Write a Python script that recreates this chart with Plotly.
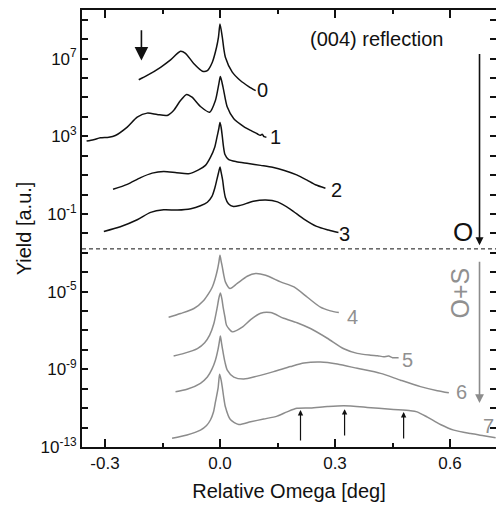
import plotly.graph_objects as go

# ---- data (x in deg, y given as log10 of yield) ----
c0_x = [-0.212, -0.190, -0.155, -0.129, -0.103, -0.090, -0.068, -0.046, -0.033, -0.020, -0.009, -0.004, 0.0, 0.006, 0.010, 0.014, 0.032, 0.053, 0.075, 0.093]
c0_ly = [5.91, 6.13, 6.55, 6.93, 7.38, 7.27, 6.73, 6.35, 6.38, 6.81, 7.58, 8.10, 8.78, 8.10, 7.50, 7.07, 6.30, 5.87, 5.56, 5.35]

c1_x = [-0.348, -0.330, -0.312, -0.290, -0.273, -0.242, -0.216, -0.190, -0.164, -0.138, -0.121, -0.103, -0.087, -0.073, -0.051, -0.027, -0.012, -0.003, 0.001, 0.008, 0.019, 0.036, 0.062, 0.080, 0.097, 0.105, 0.110, 0.115, 0.121]
c1_ly = [2.75, 2.82, 2.92, 2.95, 3.04, 3.47, 3.98, 4.19, 4.12, 4.07, 4.33, 4.84, 5.15, 5.01, 4.53, 4.24, 4.84, 5.70, 6.07, 5.52, 4.50, 3.90, 3.50, 3.30, 3.13, 3.05, 3.10, 2.98, 2.95]

c2_x = [-0.279, -0.242, -0.207, -0.177, -0.147, -0.113, -0.082, -0.056, -0.038, -0.025, -0.014, -0.008, -0.003, 0.0, 0.003, 0.006, 0.009, 0.013, 0.022, 0.043, 0.074, 0.106, 0.137, 0.168, 0.200, 0.226, 0.249, 0.275]
c2_ly = [0.27, 0.52, 0.87, 1.10, 1.19, 1.12, 1.07, 1.27, 1.50, 1.91, 2.42, 2.94, 3.40, 3.71, 3.45, 2.99, 2.48, 2.06, 1.81, 1.69, 1.60, 1.50, 1.40, 1.24, 1.01, 0.75, 0.50, 0.32]

c3_x = [-0.303, -0.260, -0.216, -0.181, -0.147, -0.111, -0.076, -0.051, -0.033, -0.021, -0.013, -0.008, -0.003, 0.0, 0.003, 0.007, 0.010, 0.014, 0.022, 0.035, 0.053, 0.087, 0.119, 0.150, 0.184, 0.218, 0.252, 0.283, 0.309]
c3_ly = [-1.90, -1.66, -1.30, -0.92, -0.79, -0.80, -0.73, -0.58, -0.40, -0.10, 0.37, 0.78, 1.19, 1.42, 1.14, 0.73, 0.27, -0.15, -0.48, -0.62, -0.56, -0.35, -0.28, -0.38, -0.76, -1.25, -1.64, -1.83, -1.96]

c4_x = [-0.134, -0.103, -0.068, -0.042, -0.029, -0.020, -0.013, -0.007, -0.003, 0.0, 0.003, 0.006, 0.010, 0.014, 0.026, 0.045, 0.071, 0.093, 0.119, 0.158, 0.193, 0.228, 0.262, 0.288, 0.310]
c4_ly = [-6.32, -6.13, -5.87, -5.44, -5.08, -4.76, -4.36, -3.90, -3.49, -3.13, -3.44, -3.73, -4.16, -4.50, -4.84, -4.58, -4.21, -4.07, -4.16, -4.50, -4.76, -5.29, -5.80, -5.99, -6.08]

c5_x = [-0.121, -0.094, -0.059, -0.040, -0.027, -0.016, -0.007, -0.003, 0.001, 0.005, 0.008, 0.013, 0.017, 0.032, 0.058, 0.080, 0.106, 0.132, 0.166, 0.201, 0.236, 0.280, 0.323, 0.358, 0.393, 0.411, 0.427, 0.440, 0.450, 0.466]
c5_ly = [-8.32, -8.18, -7.93, -7.63, -7.24, -6.64, -5.78, -5.34, -5.07, -5.39, -5.78, -6.32, -6.73, -7.07, -6.83, -6.44, -6.11, -6.08, -6.37, -6.60, -6.90, -7.40, -7.94, -8.18, -8.27, -8.30, -8.35, -8.32, -8.40, -8.40]

c6_x = [-0.116, -0.086, -0.051, -0.033, -0.021, -0.012, -0.005, -0.001, 0.001, 0.004, 0.008, 0.013, 0.019, 0.036, 0.062, 0.097, 0.140, 0.184, 0.219, 0.262, 0.306, 0.358, 0.419, 0.471, 0.523, 0.567, 0.597]
c6_ly = [-10.16, -10.03, -9.72, -9.40, -8.99, -8.53, -7.96, -7.50, -7.29, -7.65, -8.12, -8.63, -9.04, -9.40, -9.50, -9.35, -9.12, -8.86, -8.68, -8.63, -8.73, -8.95, -9.21, -9.56, -9.89, -10.10, -10.21]

c7_x = [-0.125, -0.086, -0.051, -0.035, -0.025, -0.017, -0.012, -0.005, -0.001, 0.003, 0.006, 0.010, 0.014, 0.027, 0.049, 0.080, 0.114, 0.149, 0.175, 0.201, 0.236, 0.280, 0.323, 0.384, 0.445, 0.497, 0.514, 0.541, 0.575, 0.610, 0.654, 0.688, 0.719]
c7_ly = [-12.55, -12.38, -12.13, -11.89, -11.61, -11.20, -10.69, -9.97, -9.25, -9.56, -9.92, -10.48, -10.93, -11.59, -11.84, -11.70, -11.56, -11.41, -11.19, -11.01, -10.99, -10.92, -10.88, -10.96, -11.06, -11.13, -11.19, -11.46, -11.84, -12.13, -12.31, -12.42, -12.52]

curve_names = ["0", "1", "2", "3", "4", "5", "6", "7"]
label_x = [0.112, 0.145, 0.303, 0.324, 0.346, 0.490, 0.629, 0.701]
label_ly = [5.38, 2.96, 0.24, -2.05, -6.32, -8.53, -10.15, -11.92]

divider_ly = -2.8
x_ticks = [-0.3, 0.0, 0.3, 0.6]
x_tick_text = ["-0.3", "0.0", "0.3", "0.6"]
x_minor = [-0.15, 0.15, 0.45]
y_tick_exps = list(range(-13, 10))
y_label_exps = [-13, -9, -5, -1, 3, 7]

# peak arrows (x positions, tail/tip log10 y)
peak_arrow_x = [0.210, 0.325, 0.479]
peak_arrow_tail = [-12.74, -12.49, -12.64]
peak_arrow_tip = [-11.10, -11.05, -11.20]

FONT = "Liberation Sans, Arial, Helvetica, sans-serif"
BLACK = "#111111"
GRAY = "#8c8c8c"

curves = [(c0_x, c0_ly), (c1_x, c1_ly), (c2_x, c2_ly), (c3_x, c3_ly),
          (c4_x, c4_ly), (c5_x, c5_ly), (c6_x, c6_ly), (c7_x, c7_ly)]

fig = go.Figure()
for i, (xs, lys) in enumerate(curves):
    col = BLACK if i < 4 else GRAY
    fig.add_trace(go.Scatter(x=xs, y=[10 ** v for v in lys], mode="lines",
                             line=dict(color=col, width=1.5, shape="spline", smoothing=0.7),
                             name=curve_names[i], hoverinfo="skip"))

# dashed divider
fig.add_trace(go.Scatter(x=[-0.36, 0.72], y=[10 ** divider_ly] * 2, mode="lines",
                         line=dict(color=BLACK, width=1, dash="4px,3px"), hoverinfo="skip"))

ann = []
for i, name in enumerate(curve_names):
    ann.append(dict(x=label_x[i], y=label_ly[i], xref="x", yref="y", text=name,
                    showarrow=False, font=dict(family=FONT, size=20,
                    color=BLACK if i < 4 else "#909090")))

ann.append(dict(x=0.408, y=8.03, xref="x", yref="y", text="(004) reflection", showarrow=False,
                font=dict(family=FONT, size=20, color=BLACK)))
ann.append(dict(x=0.634, y=-1.92, xref="x", yref="y", text="O", showarrow=False,
                font=dict(family=FONT, size=26, color=BLACK)))
ann.append(dict(x=0.627, y=-5.08, xref="x", yref="y", text="O+S", showarrow=False, textangle=-90,
                font=dict(family=FONT, size=25, color="#909090")))

# arrows
def arrow(x, tip, tail, color, size, head=2, width=1.5):
    return dict(x=x, y=tip, ax=x, ay=tail, xref="x", yref="y", axref="x", ayref="y",
                text="", showarrow=True, arrowhead=head, arrowsize=size, arrowwidth=width,
                arrowcolor=color, standoff=0, startstandoff=0)

ann.append(arrow(-0.205, 6.90, 8.54, BLACK, 1.7, width=1.6))
ann.append(arrow(0.677, -2.61, 7.31, BLACK, 1.0, width=1.6))
ann.append(arrow(0.677, -10.74, -3.39, GRAY, 1.1, width=1.6))
for xa, t0, t1 in zip(peak_arrow_x, peak_arrow_tail, peak_arrow_tip):
    ann.append(arrow(xa, t1, t0, BLACK, 0.9, width=1.2))

fig.update_layout(
    width=496, height=507,
    margin=dict(l=82, r=0, t=10, b=60, autoexpand=False),
    plot_bgcolor="white", paper_bgcolor="white",
    showlegend=False,
    annotations=ann,
    font=dict(family=FONT, color=BLACK),
    xaxis=dict(range=[-0.36, 0.72], tickmode="array", tickvals=x_ticks, ticktext=x_tick_text,
               ticks="inside", ticklen=8, tickwidth=1.5, tickcolor=BLACK,
               showline=True, linewidth=1.8, linecolor=BLACK, mirror="ticks",
               showgrid=False, zeroline=False, automargin=False,
               minor=dict(tickmode="array", tickvals=x_minor, ticks="inside", ticklen=4,
                          tickwidth=1.5, tickcolor=BLACK, showgrid=False),
               tickfont=dict(family=FONT, size=17, color=BLACK),
               title=dict(text="Relative Omega [deg]", font=dict(family=FONT, size=20, color=BLACK),
                          standoff=12)),
    yaxis=dict(type="log", range=[-13, 9.5], tickmode="array",
               tickvals=[10.0 ** k for k in y_tick_exps],
               ticktext=[("10<sup>%d</sup>" % k) if k in y_label_exps else "" for k in y_tick_exps],
               ticks="inside", ticklen=6, tickwidth=1.5, tickcolor=BLACK,
               showline=True, linewidth=1.8, linecolor=BLACK, mirror="ticks",
               showgrid=False, zeroline=False, automargin=False,
               tickfont=dict(family=FONT, size=17, color=BLACK),
               title=dict(text="Yield [a.u.]", font=dict(family=FONT, size=20, color=BLACK),
                          standoff=4)),
)

fig.write_html("out.html", config={"displayModeBar": False},
               post_script="document.body.style.margin='0';document.body.style.overflow='hidden';")
